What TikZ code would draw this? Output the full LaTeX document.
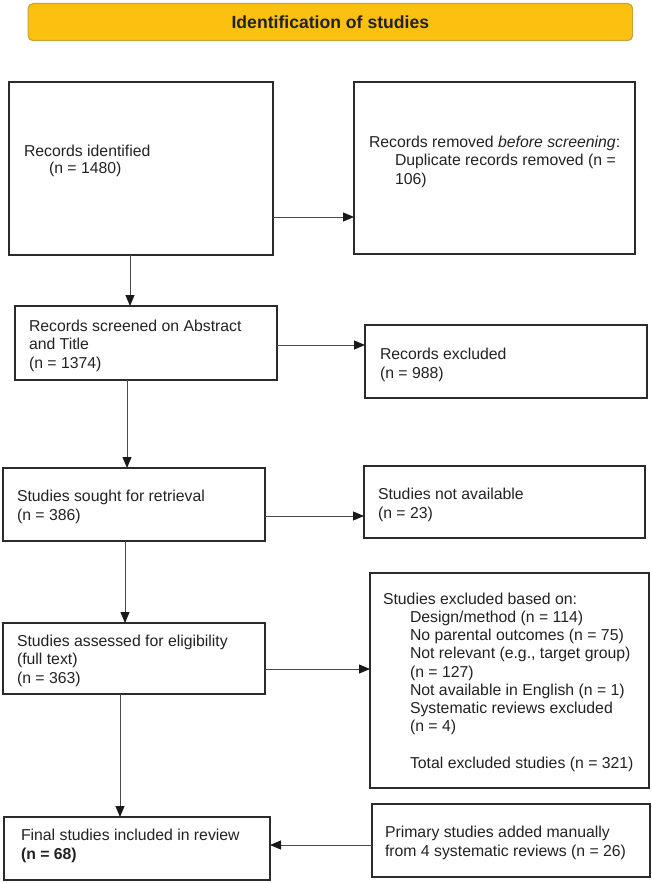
\documentclass[tikz,border=0pt]{standalone}
\usepackage{fontspec}
\setmainfont{Liberation Sans}
\usetikzlibrary{arrows.meta}
\definecolor{boxline}{HTML}{2B2B2B}
\definecolor{arrline}{HTML}{4A4A4A}
\definecolor{textc}{HTML}{222222}
\definecolor{titlefill}{HTML}{FCC010}
\definecolor{titleline}{HTML}{C8A43C}
\begin{document}
\begin{tikzpicture}[x=1pt,y=-1pt,
  box/.style={draw=boxline, line width=1.4pt, inner sep=0pt, outer sep=0pt, anchor=north west},
  txt/.style={anchor=base west, inner sep=0pt, outer sep=0pt, align=left,
    font=\fontsize{15.8}{18.2}\selectfont, text=textc},
  arr/.style={draw=arrline, line width=0.9pt, -{Triangle[length=11pt,width=9pt,color=black!90]}},
]
\useasboundingbox (0,0) rectangle (652,883);

% title
\node[draw=titleline, fill=titlefill, rounded corners=5pt, line width=1.2pt,
  minimum width=604.5pt, minimum height=37pt, anchor=north west, inner sep=0pt,
  font=\fontsize{17.6}{20}\selectfont\bfseries, text=textc] (T) at (27.5,3) {Identification of studies};

% boxes
\node[box, minimum width=264pt, minimum height=173pt] (A) at (9,82) {};
\node[box, minimum width=281pt, minimum height=172pt] (B) at (354,82) {};
\node[box, minimum width=262pt, minimum height=74pt] (C) at (15,306) {};
\node[box, minimum width=282pt, minimum height=73pt] (D) at (365,325) {};
\node[box, minimum width=262pt, minimum height=73pt] (E) at (3,468) {};
\node[box, minimum width=281pt, minimum height=72pt] (F) at (364,466) {};
\node[box, minimum width=262pt, minimum height=71pt] (G) at (3,623) {};
\node[box, minimum width=279pt, minimum height=215pt] (H) at (370,573) {};
\node[box, minimum width=266pt, minimum height=63pt] (I) at (4,817) {};
\node[box, minimum width=278pt, minimum height=73pt] (J) at (372,804) {};

% texts (anchored at the baseline of their last line)
\node[txt] (tA) at (24,173) {Records identified\\[-2pt]\hspace*{25pt}(n = 1480)};
\node[txt] (tB) at (369,184) {Records removed \textit{before screening}:\\
  \hspace*{26pt}Duplicate records removed (n =\\
  \hspace*{26pt}106)};
\node[txt] (tC) at (29,368) {Records screened on Abstract\\and Title\\(n = 1374)};
\node[txt] (tD) at (380,378) {Records excluded\\(n = 988)};
\node[txt] (tE) at (17,520) {Studies sought for retrieval\\(n = 386)};
\node[txt] (tF) at (378,518) {Studies not available\\(n = 23)};
\node[txt] (tG) at (17,683) {Studies assessed for eligibility\\(full text)\\(n = 363)};
\node[txt] (tH) at (383,768) {Studies excluded based on:\\
  \hspace*{27pt}Design/method (n = 114)\\
  \hspace*{27pt}No parental outcomes (n = 75)\\
  \hspace*{27pt}Not relevant (e.g., target group)\\
  \hspace*{27pt}(n = 127)\\
  \hspace*{27pt}Not available in English (n = 1)\\
  \hspace*{27pt}Systematic reviews excluded\\
  \hspace*{27pt}(n = 4)\\[18.2pt]
  \hspace*{27pt}Total excluded studies (n = 321)};
\node[txt] (tI) at (21,859) {Final studies included in review\\\textbf{(n = 68)}};
\node[txt] (tJ) at (385,856) {Primary studies added manually\\from 4 systematic reviews (n = 26)};

% horizontal arrows
\coordinate (ab) at ([yshift=-48.5pt]A.east);
\draw[arr] (ab) -- (ab -| B.west);
\coordinate (cd) at ([yshift=-2pt]C.east);
\draw[arr] (cd) -- (cd -| D.west);
\coordinate (ef) at ([yshift=-11.5pt]E.east);
\draw[arr] (ef) -- (ef -| F.west);
\coordinate (gh) at ([yshift=-10.5pt]G.east);
\draw[arr] (gh) -- (gh -| H.west);
\coordinate (ji) at ([yshift=-4.5pt]J.west);
\draw[arr] (ji) -- (ji -| I.east);

% vertical arrows
\coordinate (ac) at ([xshift=-11pt]A.south);
\draw[arr] (ac) -- (ac |- C.north);
\coordinate (ce) at ([xshift=-19pt]C.south);
\draw[arr] (ce) -- (ce |- E.north);
\coordinate (eg) at ([xshift=-9pt]E.south);
\draw[arr] (eg) -- (eg |- G.north);
\coordinate (gi) at ([xshift=-14pt]G.south);
\draw[arr] (gi) -- (gi |- I.north);
\end{tikzpicture}
\end{document}
